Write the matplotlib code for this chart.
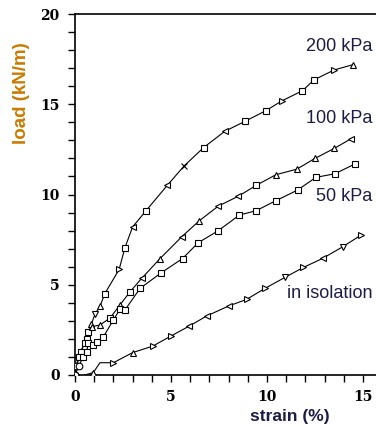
import matplotlib
matplotlib.use("Agg")
import matplotlib.pyplot as plt
from matplotlib.ticker import MultipleLocator

# --- data ---
strain_200 = [0.0, 0.05, 0.3, 0.6, 0.85, 1.05, 1.3, 1.55, 2.3, 2.6, 3.0, 3.7, 4.8,
              5.7, 6.7, 7.8, 8.85, 9.95, 10.8, 11.85, 12.45, 13.5, 14.5]
load_200 = [0.0, 0.5, 1.3, 2.0, 2.8, 3.4, 3.8, 4.5, 5.85, 7.05, 8.2, 9.1, 10.5,
            11.6, 12.6, 13.5, 14.05, 14.65, 15.2, 15.75, 16.35, 16.9, 17.2]
mk_200 = ["o", "o", "s", "s", "^", "v", "^", "s", ">", "s", "<", "s", "<",
          "x", "s", "<", "s", "s", ">", "s", "s", ">", "^"]

strain_100 = [0.0, 0.2, 0.5, 0.7, 0.87, 1.3, 1.82, 2.34, 2.86, 3.47, 4.43, 5.56,
              6.48, 7.47, 8.5, 9.43, 10.47, 11.55, 12.5, 13.5, 14.4]
load_100 = [0.0, 1.0, 1.8, 2.4, 2.68, 2.77, 3.15, 3.88, 4.6, 5.35, 6.45, 7.66,
            8.55, 9.36, 9.9, 10.5, 11.1, 11.4, 12.0, 12.55, 13.1]
mk_100 = ["o", "s", "s", "s", "^", "^", "s", "^", "s", "<", "^", "<",
          "^", "<", "<", "s", "^", "^", "^", "^", "<"]

strain_50 = [0.0, 0.2, 0.43, 0.6, 0.7, 0.95, 1.13, 1.47, 2.0, 2.34, 2.6, 3.39,
             4.5, 5.6, 6.42, 7.47, 8.56, 9.43, 10.47, 11.6, 12.55, 13.54, 14.6]
load_50 = [0.0, 0.5, 1.0, 1.3, 1.75, 1.66, 1.85, 2.1, 3.05, 3.64, 3.6, 4.8,
           5.67, 6.45, 7.33, 8.0, 8.86, 9.1, 9.66, 10.25, 10.95, 11.15, 11.7]
mk_50 = ["o", "o", "s", "s", "s", "s", "s", "s", "s", "s", "s", "s",
         "s", "s", "s", "s", "s", "s", "s", "s", "s", "s", "s"]

strain_iso = [0.5, 0.95, 1.3, 2.0, 3.0, 4.05, 5.0, 5.95, 6.86, 8.0, 8.94, 9.9,
              10.94, 11.9, 12.9, 13.94, 14.9]
load_iso = [0.0, 0.13, 0.68, 0.68, 1.24, 1.6, 2.16, 2.71, 3.27, 3.82, 4.19, 4.8,
            5.41, 5.96, 6.46, 7.1, 7.75]
mk_iso = ["None", "^", "None", ">", "^", ">", ">", "<", "<", "<", ">", ">",
          "v", ">", "<", "v", ">"]

labels = ["200 kPa", "100 kPa", "50 kPa", "in isolation"]
label_y = [18.2, 14.2, 9.9, 4.5]

fig = plt.figure(figsize=(3.76, 4.26), dpi=100)
fig.patch.set_facecolor("white")
ax = fig.add_axes([75 / 376, 1 - 375 / 426, 1 - 75 / 376, 361 / 426])

series = [(strain_200, load_200, mk_200), (strain_100, load_100, mk_100),
          (strain_50, load_50, mk_50), (strain_iso, load_iso, mk_iso)]
for xs, ys, mks in series:
    ax.plot(xs, ys, color="black", linewidth=0.8, zorder=2)
    for x, y, m in zip(xs, ys, mks):
        if m == "None":
            continue
        ax.plot(x, y, marker=m, markersize=4.8 if m != "s" else 4.3,
                markerfacecolor="white", markeredgecolor="black",
                markeredgewidth=0.8, linestyle="none", zorder=3)

for lab, ly in zip(labels, label_y):
    ax.text(15.5, ly, lab, ha="right", va="center", fontsize=13,
            family="Liberation Sans", color="#1c1c4a")

ax.set_xlim(0, 15.68)
ax.set_ylim(0, 20)
ax.spines["right"].set_visible(False)
for s in ["left", "bottom", "top"]:
    ax.spines[s].set_linewidth(1.2)

ax.xaxis.set_major_locator(MultipleLocator(5))
ax.xaxis.set_minor_locator(MultipleLocator(1))
ax.yaxis.set_major_locator(MultipleLocator(5))
ax.yaxis.set_minor_locator(MultipleLocator(1))
ax.tick_params(which="both", direction="out", length=5, width=1, top=False, right=False)
ax.tick_params(which="major", labelsize=10, pad=6)
for t in ax.get_xticklabels() + ax.get_yticklabels():
    t.set_fontfamily("DejaVu Serif")
    t.set_fontweight("bold")

fig.text(22 / 376, 1 - 93 / 426, "load (kN/m)", rotation=90, ha="center", va="center",
         fontsize=13.5, fontweight="bold", family="Liberation Sans", color="#cc7a00")
fig.text(290 / 376, 1 - 417 / 426, "strain (%)", ha="center", va="center",
         fontsize=12.5, fontweight="bold", family="Liberation Sans", color="#1c1c4a")

fig.savefig("out.png", dpi=100)
